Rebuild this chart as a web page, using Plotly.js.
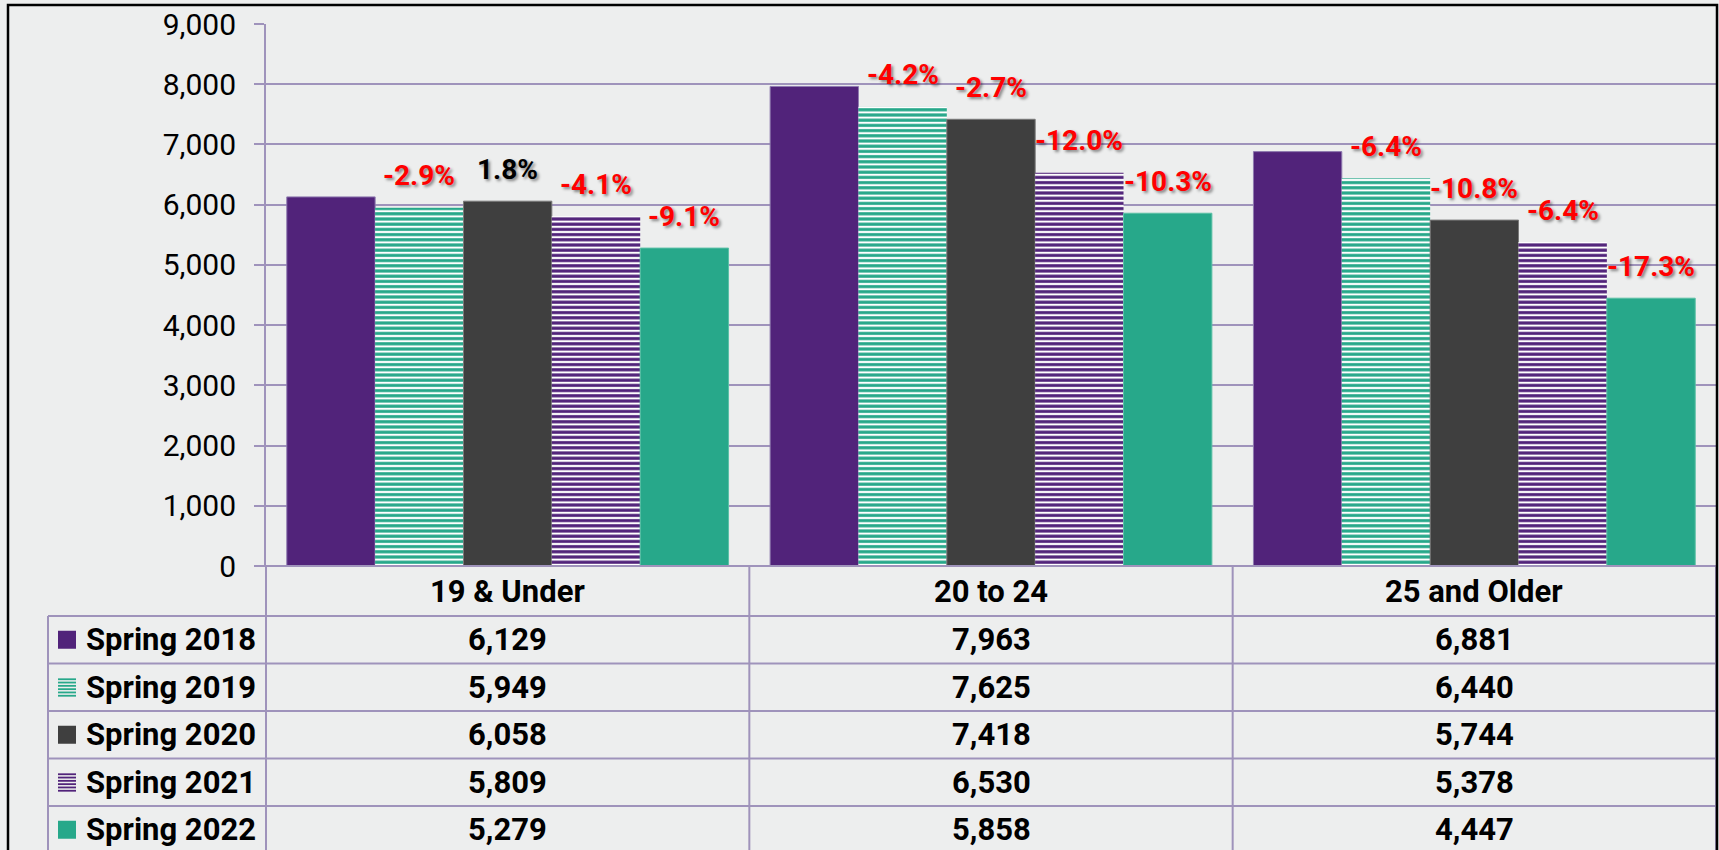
<!DOCTYPE html>
<html>
<head>
<meta charset="utf-8">
<script src="https://cdn.plot.ly/plotly-3.0.1.min.js"></script>
<style>
  html, body { margin: 0; padding: 0; background: #EDEEEE; }
  #chart { width: 1719px; height: 850px; }
</style>
</head>
<body>
<div id="chart"></div>
<script>
// ---- data ----
const categories = ['19 & Under', '20 to 24', '25 and Older'];
const seriesNames = ['Spring 2018', 'Spring 2019', 'Spring 2020', 'Spring 2021', 'Spring 2022'];
const spring2018 = [6129, 7963, 6881];
const spring2019 = [5949, 7625, 6440];
const spring2020 = [6058, 7418, 5744];
const spring2021 = [5809, 6530, 5378];
const spring2022 = [5279, 5858, 4447];
const yTickValues = [0, 1000, 2000, 3000, 4000, 5000, 6000, 7000, 8000, 9000];

const seriesValues = [spring2018, spring2019, spring2020, spring2021, spring2022];

// ---- styles ----
const PURPLE = '#51237A', TEAL = '#27A88A', DARK = '#3F3F3F';
const LINE = '#9F93BB';
const styles = [
  { color: PURPLE, line: '#8F7BB0', striped: false },
  { color: TEAL, line: TEAL, striped: true },
  { color: DARK, line: '#7A7A7A', striped: false },
  { color: PURPLE, line: PURPLE, striped: true },
  { color: TEAL, line: '#5BC0A6', striped: false }
];

// ---- geometry (pixels) ----
const W = 1719, H = 850;
const L = 266, R = 1716, T = 24, B = 566;
const px = v => (v - L) / (R - L);
const py = v => (B - v) / (B - T);
const BARGAP = 0.086;
const rowTops = [566, 616, 663.5, 711, 758.5, 806, 853.5];

const traces = seriesNames.map((name, i) => {
  const st = styles[i];
  const marker = { color: st.color, line: { color: st.line, width: 1 } };
  if (st.striped) {
    marker.color = '#FFFFFF';
    marker.pattern = { shape: '-', fgcolor: st.color, bgcolor: '#FFFFFF', fgopacity: 1,
                       size: 5.2, solidity: 0.6, fillmode: 'replace' };
    marker.line = { color: '#FFFFFF', width: 0 };
  }
  return { type: 'bar', name: name, x: categories, y: seriesValues[i], marker: marker,
           showlegend: false, hoverinfo: 'x+y+name' };
});

const annotations = [];
const catPx = (R - L) / categories.length;
const barW = catPx * (1 - BARGAP) / seriesNames.length;

// percentage change labels
for (let i = 1; i < seriesNames.length; i++) {
  categories.forEach((c, j) => {
    const cur = seriesValues[i][j], prev = seriesValues[i - 1][j];
    const pct = (cur - prev) / prev * 100;
    annotations.push({
      x: c, y: cur, xref: 'x', yref: 'y', showarrow: false,
      xshift: (i - 2) * barW, yshift: 32, yanchor: 'middle',
      text: '<b>' + pct.toFixed(1) + '%</b>',
      font: { family: 'Roboto', size: 28, color: pct < 0 ? '#FF0000' : '#000000',
              shadow: '2px 2px 3px rgba(0,0,0,0.45)' }
    });
  });
}

// table: header row
categories.forEach(c => {
  annotations.push({ x: c, xref: 'x', y: py((rowTops[0] + rowTops[1]) / 2), yref: 'paper',
    showarrow: false, yanchor: 'middle', text: '<b>' + c + '</b>',
    font: { family: 'Roboto', size: 31, color: '#000' } });
});
// table: rows
const shapes = [];
seriesNames.forEach((name, i) => {
  const yc = (rowTops[i + 1] + rowTops[i + 2]) / 2;
  annotations.push({ x: px(84), xref: 'paper', xanchor: 'left', y: py(yc), yref: 'paper',
    showarrow: false, yanchor: 'middle', text: '<b>' + name + '</b>',
    font: { family: 'Roboto', size: 31, color: '#000' } });
  categories.forEach((c, j) => {
    annotations.push({ x: c, xref: 'x', y: py(yc), yref: 'paper', showarrow: false, yanchor: 'middle',
      text: '<b>' + seriesValues[i][j].toLocaleString('en-US') + '</b>',
      font: { family: 'Roboto', size: 31, color: '#000' } });
  });
  // legend key
  const st = styles[i];
  const k0 = 58, k1 = 76, ky0 = yc - 9, ky1 = yc + 9;
  if (!st.striped) {
    shapes.push({ type: 'rect', xref: 'paper', yref: 'paper', x0: px(k0), x1: px(k1), y0: py(ky1), y1: py(ky0),
      fillcolor: st.color, line: { width: 0 } });
  } else {
    for (let s = 0; s < 6; s++) {
      const yy = ky0 + 1 + s * 3.3;
      shapes.push({ type: 'line', xref: 'paper', yref: 'paper', x0: px(k0), x1: px(k1), y0: py(yy), y1: py(yy),
        line: { color: st.color, width: 1.8 } });
    }
  }
});

// table grid lines
shapes.push({ type: 'line', xref: 'paper', yref: 'paper', x0: px(256), x1: px(R), y0: py(rowTops[0]), y1: py(rowTops[0]),
  line: { color: LINE, width: 2 } });
for (let r = 1; r < rowTops.length; r++) {
  shapes.push({ type: 'line', xref: 'paper', yref: 'paper', x0: px(48), x1: px(R), y0: py(rowTops[r]), y1: py(rowTops[r]),
    line: { color: LINE, width: 2 } });
}
shapes.push({ type: 'line', xref: 'paper', yref: 'paper', x0: px(48), x1: px(48), y0: py(rowTops[1]), y1: py(H + 5),
  line: { color: LINE, width: 2 } });
for (let c = 0; c <= categories.length; c++) {
  const xx = L + c * catPx;
  shapes.push({ type: 'line', xref: 'paper', yref: 'paper', x0: px(xx), x1: px(xx), y0: py(rowTops[0]), y1: py(H + 5),
    line: { color: LINE, width: 2 } });
}
// outer border
shapes.push({ type: 'rect', xref: 'paper', yref: 'paper', x0: px(8), x1: px(1717), y0: py(5), y1: py(H + 10),
  fillcolor: 'rgba(0,0,0,0)', line: { color: '#000', width: 2.5 } });

const layout = {
  width: W, height: H,
  margin: { l: L, r: W - R, t: T, b: H - B, pad: 0 },
  paper_bgcolor: '#EDEEEE', plot_bgcolor: '#EDEEEE',
  barmode: 'group', bargap: BARGAP, bargroupgap: 0,
  showlegend: false,
  xaxis: { type: 'category', showticklabels: false, showgrid: false, zeroline: false, showline: false, ticks: '' },
  yaxis: {
    range: [0, 9000], tickvals: yTickValues, tickformat: ',d',
    showgrid: true, gridcolor: LINE, gridwidth: 2, zeroline: false,
    showline: true, linecolor: LINE, linewidth: 2,
    ticks: 'outside', ticklen: 10, tickcolor: LINE, tickwidth: 2,
    ticklabelstandoff: 12,
    tickfont: { family: 'Roboto', size: 30, color: '#000' }
  },
  annotations: annotations,
  shapes: shapes
};

Plotly.newPlot('chart', traces, layout, { displayModeBar: false, staticPlot: true });
</script>
</body>
</html>
